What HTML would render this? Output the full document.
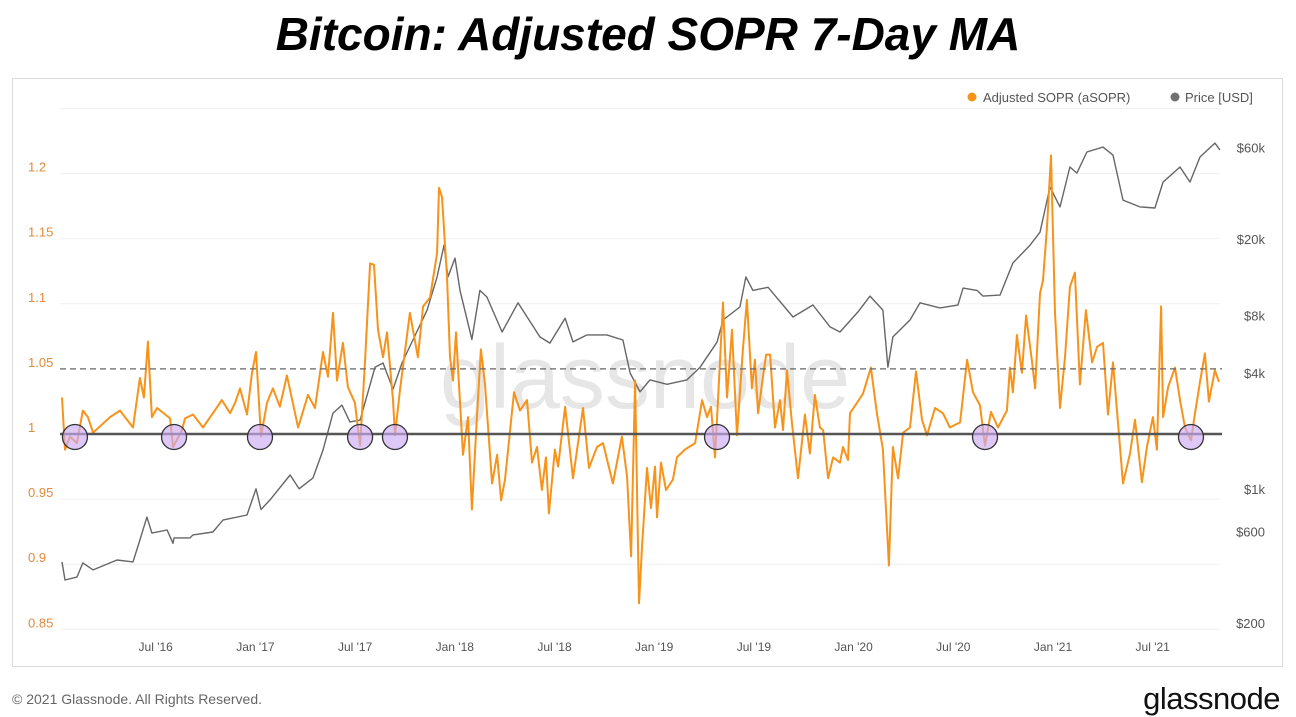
<!DOCTYPE html>
<html><head><meta charset="utf-8">
<style>
body{margin:0;width:1296px;height:714px;background:#fff;overflow:hidden;font-family:"Liberation Sans",sans-serif;}
#title{position:absolute;left:0;top:7px;width:1296px;text-align:center;font-size:46px;font-weight:bold;font-style:italic;color:#000;}
#box{position:absolute;left:12px;top:78px;width:1269px;height:587px;border:1px solid #dcdcdc;}
#foot{position:absolute;left:12px;top:691px;font-size:14px;color:#666;}
#logo{position:absolute;right:16px;top:681px;font-size:31px;color:#111;letter-spacing:-0.5px;}
svg{position:absolute;left:0;top:0;}
</style></head><body>
<div id="title">Bitcoin: Adjusted SOPR 7-Day MA</div>
<div id="box"></div>
<svg id="chart" width="1296" height="714"></svg>
<div id="foot">© 2021 Glassnode. All Rights Reserved.</div>
<div id="logo">glassnode</div>
<script>
const soprDates=[2016.030,2016.045,2016.070,2016.105,2016.135,2016.160,2016.186,2016.271,2016.321,2016.386,2016.421,2016.441,2016.461,2016.481,2016.507,2016.572,2016.587,2016.632,2016.647,2016.687,2016.737,2016.787,2016.832,2016.873,2016.898,2016.923,2016.958,2016.983,2017.003,2017.028,2017.058,2017.088,2017.123,2017.158,2017.214,2017.264,2017.299,2017.339,2017.364,2017.389,2017.409,2017.439,2017.464,2017.499,2017.525,2017.550,2017.575,2017.595,2017.615,2017.640,2017.660,2017.690,2017.700,2017.725,2017.775,2017.815,2017.841,2017.876,2017.911,2017.921,2017.936,2017.961,2017.976,2017.991,2018.006,2018.041,2018.066,2018.086,2018.111,2018.131,2018.151,2018.187,2018.212,2018.232,2018.252,2018.297,2018.327,2018.362,2018.387,2018.412,2018.437,2018.457,2018.472,2018.502,2018.518,2018.553,2018.593,2018.643,2018.673,2018.713,2018.743,2018.793,2018.838,2018.864,2018.884,2018.904,2018.924,2018.939,2018.964,2018.984,2019.004,2019.014,2019.034,2019.059,2019.094,2019.114,2019.154,2019.205,2019.240,2019.265,2019.285,2019.305,2019.325,2019.345,2019.365,2019.390,2019.415,2019.445,2019.465,2019.490,2019.505,2019.521,2019.541,2019.561,2019.581,2019.606,2019.631,2019.646,2019.666,2019.691,2019.721,2019.756,2019.781,2019.806,2019.831,2019.847,2019.872,2019.897,2019.932,2019.947,2019.972,2019.982,2020.017,2020.047,2020.087,2020.117,2020.147,2020.177,2020.197,2020.223,2020.248,2020.283,2020.313,2020.343,2020.368,2020.408,2020.448,2020.483,2020.534,2020.569,2020.599,2020.634,2020.659,2020.689,2020.724,2020.769,2020.784,2020.799,2020.819,2020.844,2020.865,2020.895,2020.910,2020.935,2020.950,2020.970,2020.990,2021.010,2021.035,2021.060,2021.085,2021.110,2021.135,2021.165,2021.196,2021.221,2021.251,2021.276,2021.301,2021.351,2021.386,2021.411,2021.446,2021.471,2021.501,2021.521,2021.542,2021.552,2021.577,2021.612,2021.637,2021.662,2021.692,2021.712,2021.737,2021.762,2021.782,2021.812,2021.832];
const soprValues=[1.028,0.988,0.998,0.993,1.018,1.013,1.001,1.013,1.018,1.005,1.043,1.028,1.071,1.013,1.020,1.012,0.990,1.003,1.012,1.015,1.005,1.016,1.026,1.016,1.024,1.035,1.015,1.047,1.063,0.998,1.024,1.035,1.021,1.045,1.005,1.030,1.020,1.063,1.044,1.093,1.041,1.070,1.036,1.024,0.991,1.057,1.131,1.130,1.080,1.059,1.078,1.026,0.999,1.034,1.093,1.059,1.098,1.105,1.139,1.189,1.182,1.121,1.059,1.041,1.078,0.984,1.013,0.942,1.013,1.065,1.039,0.962,0.984,0.949,0.965,1.032,1.018,1.026,0.978,0.990,0.957,0.982,0.939,0.988,0.975,1.021,0.966,1.020,0.974,0.990,0.993,0.962,0.998,0.967,0.906,1.041,0.870,0.913,0.974,0.943,0.975,0.936,0.978,0.957,0.965,0.982,0.988,0.993,1.026,1.013,1.021,0.982,1.041,1.101,1.028,1.080,0.999,1.065,1.103,1.035,1.057,1.016,1.039,1.061,1.061,1.005,1.026,1.003,1.049,1.008,0.966,1.015,0.985,1.030,1.005,1.003,0.966,0.982,0.978,0.990,0.980,1.016,1.024,1.031,1.051,1.016,0.988,0.899,0.990,0.966,1.001,1.005,1.048,1.011,0.999,1.020,1.016,1.005,1.009,1.057,1.032,1.022,0.991,1.017,1.005,1.018,1.051,1.032,1.076,1.047,1.091,1.055,1.035,1.108,1.118,1.159,1.214,1.093,1.020,1.059,1.113,1.124,1.038,1.095,1.055,1.067,1.070,1.015,1.055,0.962,0.985,1.011,0.963,0.990,1.013,0.988,1.098,1.013,1.036,1.051,1.026,1.005,0.995,1.016,1.040,1.062,1.025,1.049,1.040];
const priceDates=[2016.030,2016.045,2016.105,2016.135,2016.186,2016.306,2016.386,2016.421,2016.456,2016.481,2016.557,2016.587,2016.592,2016.672,2016.687,2016.787,2016.837,2016.958,2017.003,2017.028,2017.073,2017.174,2017.219,2017.289,2017.339,2017.389,2017.434,2017.474,2017.525,2017.600,2017.640,2017.690,2017.735,2017.790,2017.861,2017.911,2017.946,2017.966,2018.001,2018.026,2018.086,2018.126,2018.161,2018.237,2018.317,2018.427,2018.477,2018.553,2018.593,2018.663,2018.763,2018.843,2018.879,2018.929,2018.979,2019.064,2019.164,2019.230,2019.315,2019.345,2019.430,2019.460,2019.495,2019.571,2019.696,2019.796,2019.882,2019.932,2020.022,2020.082,2020.147,2020.172,2020.197,2020.283,2020.333,2020.433,2020.523,2020.549,2020.619,2020.649,2020.734,2020.799,2020.885,2020.935,2020.985,2021.035,2021.085,2021.120,2021.170,2021.251,2021.301,2021.351,2021.436,2021.511,2021.552,2021.637,2021.687,2021.737,2021.812,2021.837];
const priceValues=[416,335,347,411,378,426,416,541,712,588,610,520,555,555,575,596,687,730,1000,780,875,1180,1000,1140,1590,2480,2730,2230,2280,4300,4520,3300,4520,5960,8530,12700,18600,12700,15900,10800,6000,10800,9980,6560,9300,6180,5740,7740,5820,6330,6330,5960,4010,3200,3690,3500,3690,4300,5800,7570,8850,12700,10800,11200,7850,9060,6970,6560,8340,10080,8530,4300,6180,7570,9300,8750,9050,11100,10800,10080,10200,15000,18600,21700,37300,29400,47400,44100,56800,60200,54700,31900,29400,29000,39600,47400,39600,53500,63200,58200];
const circleDates=[2016.095,2016.592,2017.023,2017.525,2017.700,2019.315,2020.659,2021.692];
const soprTicks=[1.2,1.15,1.1,1.05,1,0.95,0.9,0.85];
const soprTickLabels=["1.2","1.15","1.1","1.05","1","0.95","0.9","0.85"];
const priceTicks=[60000,20000,8000,4000,1000,600,200];
const priceTickLabels=["$60k","$20k","$8k","$4k","$1k","$600","$200"];
const xTicks=[2016.5,2017,2017.5,2018,2018.5,2019,2019.5,2020,2020.5,2021,2021.5];
const xTickLabels=["Jul '16","Jan '17","Jul '17","Jan '18","Jul '18","Jan '19","Jul '19","Jan '20","Jul '20","Jan '21","Jul '21"];

const NS="http://www.w3.org/2000/svg";
const svg=document.getElementById('chart');
const X=t=>56+(t-2016)*199.4;
const Y=v=>434-(v-1)*1302;
const YP=p=>623-(Math.log10(p)-Math.log10(200))*192;
function mk(tag,attrs,parent){const e=document.createElementNS(NS,tag);for(const k in attrs)e.setAttribute(k,attrs[k]);(parent||svg).appendChild(e);return e;}

[1.25,1.2,1.15,1.1,0.95,0.9,0.85].forEach(v=>{
  const g=mk('line',{x1:60,x2:1220,y1:Y(v),y2:Y(v),stroke:'#efefef','stroke-width':1});
  
  
});
const wm=mk('text',{x:645,y:408,'text-anchor':'middle','font-size':90,fill:'#e6e6e6','font-family':'Liberation Sans, sans-serif'});
wm.textContent='glassnode';


soprTicks.forEach((v,i)=>{
  const t=mk('text',{x:28,y:Y(v)-2,'font-size':13,fill:'#e08a3a'});
  t.textContent=soprTickLabels[i];
  
  
});
priceTicks.forEach((p,i)=>{
  const t=mk('text',{x:1265,y:YP(p)+5,'font-size':13,fill:'#555','text-anchor':'end'});
  t.textContent=priceTickLabels[i];
  
  
});
xTicks.forEach((d,i)=>{
  const t=mk('text',{x:X(d),y:651,'font-size':12,fill:'#555','text-anchor':'middle'});
  t.textContent=xTickLabels[i];
  
  
});
const pp=mk('polyline',{points:priceDates.map((d,i)=>X(d).toFixed(1)+','+YP(priceValues[i]).toFixed(1)).join(' '),fill:'none',stroke:'#666','stroke-width':1.4,'stroke-linejoin':'round'});


const sp=mk('polyline',{points:soprDates.map((d,i)=>X(d).toFixed(1)+','+Y(soprValues[i]).toFixed(1)).join(' '),fill:'none',stroke:'#f7931a','stroke-width':2,'stroke-linejoin':'round'});


const dl=mk('line',{x1:60,x2:1222,y1:Y(1.05),y2:Y(1.05),stroke:'#666','stroke-width':1.3,'stroke-dasharray':'6,4'});


const bl=mk('line',{x1:60,x2:1222,y1:Y(1),y2:Y(1),stroke:'#555','stroke-width':2.4});


circleDates.forEach(d=>{
  const c=mk('circle',{cx:X(d),cy:Y(1)+3,r:12.5,fill:'rgba(205,170,245,0.65)',stroke:'#333','stroke-width':1.3});
  
  
});
const l1=mk('circle',{cx:972,cy:97,r:4.5,fill:'#f7931a'});


const lt1=mk('text',{x:983,y:102,'font-size':13,fill:'#555'});lt1.textContent='Adjusted SOPR (aSOPR)';


const l2=mk('circle',{cx:1175,cy:97,r:4.5,fill:'#707070'});


const lt2=mk('text',{x:1185,y:102,'font-size':13,fill:'#555'});lt2.textContent='Price [USD]';


</script>
</body></html>
